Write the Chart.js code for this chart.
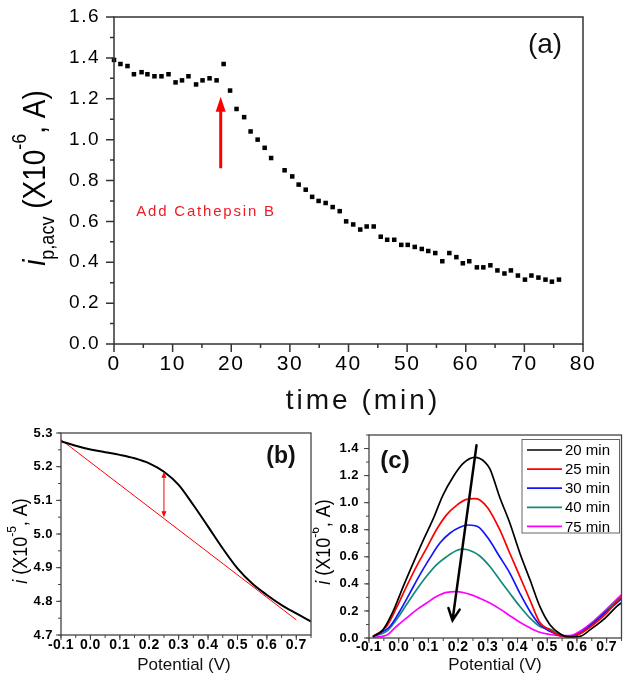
<!DOCTYPE html>
<html>
<head>
<meta charset="utf-8">
<script src="https://cdn.jsdelivr.net/npm/chart.js@4.4.1/dist/chart.umd.min.js"></script>
<style>
  html, body { margin: 0; padding: 0; background: #fff; }
  #wrap { position: relative; width: 629px; height: 692px; overflow: hidden; background: #fff; }
  canvas { position: absolute; }
</style>
</head>
<body>
<div id="wrap">
  <canvas id="chartA" width="629" height="425" style="left:0px;top:0px"></canvas>
  <canvas id="chartB" width="312" height="264" style="left:0px;top:428px"></canvas>
  <canvas id="chartC" width="317" height="264" style="left:312px;top:428px"></canvas>
</div>
<script>
// ---- panel (a): peak current vs time ----
const timeMin = [0, 1.1, 2.3, 3.4, 4.7, 5.7, 6.9, 8.1, 9.3, 10.5, 11.6, 12.7, 14.0, 15.1, 16.3,
  17.5, 18.7, 19.8, 20.9, 22.2, 23.3, 24.5, 25.7, 26.8, 29.1, 30.4, 31.5, 32.7, 33.8, 34.9,
  36.1, 37.3, 38.5, 39.6, 40.8, 42.0, 43.1, 44.3, 45.5, 46.6, 47.8, 49.0, 50.1, 51.3, 52.5,
  53.6, 54.8, 56.0, 57.2, 58.4, 59.5, 60.6, 61.9, 63.0, 64.2, 65.4, 66.6, 67.7, 68.9, 70.1,
  71.2, 72.4, 73.6, 74.7, 75.9];
const ipAcv = [1.39, 1.37, 1.36, 1.32, 1.33, 1.32, 1.31, 1.31, 1.32, 1.28, 1.29, 1.31, 1.27, 1.29, 1.30,
  1.29, 1.37, 1.24, 1.15, 1.11, 1.04, 1.00, 0.96, 0.91, 0.85, 0.82, 0.78, 0.755, 0.72, 0.70,
  0.69, 0.67, 0.65, 0.60, 0.585, 0.56, 0.575, 0.575, 0.525, 0.51, 0.51, 0.485, 0.485, 0.475, 0.465,
  0.455, 0.445, 0.405, 0.445, 0.425, 0.395, 0.405, 0.375, 0.375, 0.385, 0.36, 0.345, 0.36, 0.335, 0.315,
  0.335, 0.325, 0.315, 0.305, 0.315];
const aTickX = [0, 10, 20, 30, 40, 50, 60, 70, 80];
const aTickXLabels = ['0', '10', '20', '30', '40', '50', '60', '70', '80'];
const aTickY = [0, 0.2, 0.4, 0.6, 0.8, 1.0, 1.2, 1.4, 1.6];
const aTickYLabels = ['0.0', '0.2', '0.4', '0.6', '0.8', '1.0', '1.2', '1.4', '1.6'];
const addArrow = [18.2, 0.86, 1.21];      // time, tail, tip
const addLabel = [15.7, 0.645];

// ---- panel (b): raw ACV trace with baseline ----
const potB = [-0.1, -0.05, 0, 0.05, 0.1, 0.15, 0.2, 0.25, 0.3, 0.35, 0.4, 0.45, 0.5, 0.55, 0.6, 0.65, 0.7, 0.75];
const currB = [5.276, 5.262, 5.251, 5.243, 5.235, 5.225, 5.21, 5.185, 5.146, 5.086, 5.022, 4.957, 4.898, 4.853, 4.819, 4.789, 4.764, 4.74];
const baseX = [-0.1, 0.7];
const baseY = [5.28, 4.745];
const peakArrow = [0.25, 5.185, 5.05];
const potTicks = [-0.1, 0, 0.1, 0.2, 0.3, 0.4, 0.5, 0.6, 0.7];
const potTickLabels = ['-0.1', '0.0', '0.1', '0.2', '0.3', '0.4', '0.5', '0.6', '0.7'];
const bTickY = [4.7, 4.8, 4.9, 5.0, 5.1, 5.2, 5.3];
const bTickYLabels = ['4.7', '4.8', '4.9', '5.0', '5.1', '5.2', '5.3'];

// ---- panel (c): baseline-corrected peaks ----
const cLabels = ['20 min', '25 min', '30 min', '40 min', '75 min'];
const cColors = ['#000000', '#ff0000', '#1414ff', '#138a7a', '#ff00ff'];
const x20 = [-0.087, -0.053, -0.019, 0.015, 0.048, 0.082, 0.116, 0.149, 0.183, 0.217, 0.256, 0.273, 0.29, 0.307, 0.34, 0.374, 0.408, 0.442, 0.475, 0.509, 0.543, 0.576, 0.61, 0.644, 0.689, 0.74, 0.75];
const y20 = [0.01, 0.06, 0.196, 0.38, 0.55, 0.72, 0.88, 1.056, 1.19, 1.29, 1.334, 1.326, 1.30, 1.25, 1.04, 0.85, 0.626, 0.43, 0.233, 0.098, 0.032, 0.007, 0.012, 0.06, 0.135, 0.245, 0.26];
const x25 = [-0.087, -0.041, -0.008, 0.026, 0.06, 0.093, 0.127, 0.161, 0.195, 0.228, 0.256, 0.273, 0.30, 0.34, 0.374, 0.408, 0.442, 0.475, 0.509, 0.543, 0.576, 0.61, 0.655, 0.70, 0.745, 0.75];
const y25 = [0.01, 0.085, 0.22, 0.38, 0.53, 0.66, 0.80, 0.91, 0.98, 1.024, 1.03, 1.02, 0.96, 0.80, 0.626, 0.454, 0.28, 0.115, 0.06, 0.017, 0.012, 0.032, 0.098, 0.184, 0.295, 0.30];
const x30 = [-0.087, -0.03, 0.003, 0.037, 0.071, 0.105, 0.138, 0.172, 0.206, 0.234, 0.267, 0.30, 0.34, 0.374, 0.408, 0.442, 0.475, 0.509, 0.543, 0.576, 0.61, 0.655, 0.70, 0.745, 0.75];
const y30 = [0.01, 0.085, 0.196, 0.33, 0.466, 0.59, 0.70, 0.774, 0.818, 0.835, 0.822, 0.74, 0.60, 0.48, 0.33, 0.196, 0.098, 0.049, 0.017, 0.007, 0.037, 0.11, 0.196, 0.28, 0.29];
const x40 = [-0.087, -0.041, -0.008, 0.026, 0.06, 0.093, 0.127, 0.161, 0.195, 0.217, 0.25, 0.273, 0.307, 0.34, 0.374, 0.408, 0.442, 0.475, 0.509, 0.543, 0.576, 0.61, 0.655, 0.70, 0.745, 0.75];
const y40 = [0.01, 0.049, 0.135, 0.245, 0.356, 0.454, 0.54, 0.60, 0.646, 0.656, 0.638, 0.606, 0.528, 0.43, 0.33, 0.233, 0.147, 0.085, 0.066, 0.024, 0.012, 0.032, 0.11, 0.208, 0.295, 0.30];
const x75 = [-0.087, -0.041, -0.008, 0.026, 0.06, 0.093, 0.127, 0.161, 0.195, 0.217, 0.25, 0.273, 0.307, 0.34, 0.374, 0.408, 0.442, 0.475, 0.509, 0.543, 0.576, 0.61, 0.655, 0.70, 0.745, 0.75];
const y75 = [0.005, 0.02, 0.085, 0.147, 0.208, 0.257, 0.306, 0.337, 0.342, 0.336, 0.315, 0.293, 0.258, 0.215, 0.165, 0.117, 0.075, 0.042, 0.026, 0.018, 0.017, 0.05, 0.123, 0.213, 0.31, 0.32];
const cX = [x20, x25, x30, x40, x75];
const cY = [y20, y25, y30, y40, y75];
const cTickY = [0, 0.2, 0.4, 0.6, 0.8, 1.0, 1.2, 1.4];
const cTickYLabels = ['0.0', '0.2', '0.4', '0.6', '0.8', '1.0', '1.2', '1.4'];
const trendArrow = [0.262, 1.425, 0.181, 0.13];   // x0, y0, x1, y1

const FF = "'Liberation Sans', Arial, Helvetica, sans-serif";

function pts(xs, ys) {
    return xs.map((x, i) => ({ x: x, y: ys[i] }));
}

function axis(min, max, ticks, labels, font, padding, size, horizontal) {
    return {
        type: 'linear', min: min, max: max,
        grid: { display: false, drawTicks: false },
        border: { display: false },
        afterBuildTicks: s => { s.ticks = ticks.map(v => ({ value: v })); },
        afterFit: s => {
            if (horizontal) s.height = size; else s.width = size;
            // keep the plot box exactly where the layout padding puts it
            s.paddingTop = 0; s.paddingBottom = 0; s.paddingLeft = 0; s.paddingRight = 0;
        },
        ticks: { font: font, color: '#000', padding: padding, autoSkip: false, maxRotation: 0, callback: (v, i) => labels[i] }
    };
}

// text made of pieces (italic i, sub/superscripts)
function drawParts(ctx, parts, cx, cy, angle, baseOff, sx, sy) {
    ctx.save();
    ctx.translate(cx, cy);
    ctx.rotate(angle);
    ctx.scale(sx, sy);
    ctx.textAlign = 'left';
    ctx.textBaseline = 'alphabetic';
    let total = 0;
    parts.forEach(p => { ctx.font = p.font; total += ctx.measureText(p.text).width; });
    let x = -total / 2;
    parts.forEach(p => {
        ctx.font = p.font;
        ctx.fillStyle = p.color || '#000';
        ctx.fillText(p.text, x, baseOff + (p.dy || 0));
        x += ctx.measureText(p.text).width;
    });
    ctx.restore();
}

// box frame, major + minor tick marks, then panel-specific extras
function framePlugin(cfg) {
    return {
        id: 'frame',
        beforeDraw(chart) { chart.ctx.letterSpacing = cfg.spacing; },
        afterDraw(chart) {
            const ctx = chart.ctx, a = chart.chartArea;
            const xs = chart.scales.x, ys = chart.scales.y;
            ctx.save();
            ctx.letterSpacing = '0px';
            ctx.strokeStyle = cfg.color;
            ctx.lineWidth = cfg.tickWidth;
            ctx.beginPath();
            for (let v = xs.min; v <= xs.max + 1e-9; v += cfg.minorX) {
                const p = xs.getPixelForValue(v);
                ctx.moveTo(p, a.bottom); ctx.lineTo(p, a.bottom + cfg.minorLen);
            }
            for (let v = ys.min; v <= ys.max + 1e-9; v += cfg.minorY) {
                const p = ys.getPixelForValue(v);
                ctx.moveTo(a.left, p); ctx.lineTo(a.left - cfg.minorLen, p);
            }
            xs.ticks.forEach(t => {
                const p = xs.getPixelForValue(t.value);
                ctx.moveTo(p, a.bottom); ctx.lineTo(p, a.bottom + cfg.majorLen);
            });
            ys.ticks.forEach(t => {
                const p = ys.getPixelForValue(t.value);
                ctx.moveTo(a.left, p); ctx.lineTo(a.left - cfg.majorLen, p);
            });
            ctx.stroke();
            ctx.lineWidth = cfg.frameWidth;
            ctx.strokeRect(a.left, a.top, a.right - a.left, a.bottom - a.top);
            ctx.restore();
            ctx.save();
            ctx.letterSpacing = '0px';
            cfg.extras(ctx, xs, ys, a);
            ctx.restore();
        }
    };
}

const baseOpts = {
    responsive: false, maintainAspectRatio: false, devicePixelRatio: 1, animation: false,
    events: [],
    plugins: { legend: { display: false }, tooltip: { enabled: false } }
};

// ---------- chart (a) ----------
new Chart(document.getElementById('chartA'), {
    type: 'scatter',
    data: {
        datasets: [{
            data: pts(timeMin, ipAcv),
            pointStyle: 'rect', pointRadius: 3.2, pointBorderWidth: 0,
            pointBackgroundColor: '#000', backgroundColor: '#000', clip: false
        }]
    },
    options: Object.assign({}, baseOpts, {
        layout: { autoPadding: false, padding: { left: 0, top: 17, right: 46, bottom: 0 } },
        scales: {
            x: axis(0, 80, aTickX, aTickXLabels, { family: FF, size: 21 }, 8, 81, true),
            y: axis(0, 1.6, aTickY, aTickYLabels, { family: FF, size: 19 }, 14, 114, false)
        }
    }),
    plugins: [framePlugin({
        spacing: '1.5px', color: '#333', tickWidth: 1.5, frameWidth: 1.5,
        minorX: 5, minorY: 0.1, majorLen: 8, minorLen: 4,
        extras(ctx, xs, ys, a) {
            // red "add enzyme" arrow
            const ax = xs.getPixelForValue(addArrow[0]);
            const tail = ys.getPixelForValue(addArrow[1]);
            const tip = ys.getPixelForValue(addArrow[2]);
            ctx.strokeStyle = '#ff0000';
            ctx.fillStyle = '#ff0000';
            ctx.lineWidth = 3;
            ctx.beginPath();
            ctx.moveTo(ax, tail); ctx.lineTo(ax, tip + 12);
            ctx.stroke();
            ctx.beginPath();
            ctx.moveTo(ax, tip); ctx.lineTo(ax - 5, tip + 15); ctx.lineTo(ax + 5, tip + 15);
            ctx.closePath(); ctx.fill();
            ctx.font = '15px ' + FF;
            ctx.letterSpacing = '1.8px';
            ctx.textAlign = 'center';
            ctx.textBaseline = 'middle';
            ctx.fillStyle = '#ee1c24';
            ctx.fillText('Add Cathepsin B', xs.getPixelForValue(addLabel[0]), ys.getPixelForValue(addLabel[1]));
            // panel letter
            ctx.letterSpacing = '0px';
            ctx.fillStyle = '#111';
            ctx.font = '28px ' + FF;
            ctx.fillText('(a)', a.right - 38, a.top + 28);
            // x title
            ctx.font = '28px ' + FF;
            ctx.letterSpacing = '3px';
            ctx.fillText('time (min)', 363, 401);
            ctx.letterSpacing = '0px';
            // y title
            drawParts(ctx, [
                { text: 'i', font: 'italic 28px ' + FF },
                { text: 'p,acv', font: '18px ' + FF, dy: 8 },
                { text: ' (X10', font: '28px ' + FF },
                { text: '-6', font: '18px ' + FF, dy: -17 },
                { text: ', A)', font: '28px ' + FF }
            ], 34, 178, -Math.PI / 2, 10, 1, 1.12);
        }
    })]
});

// ---------- chart (b) ----------
new Chart(document.getElementById('chartB'), {
    type: 'scatter',
    data: {
        datasets: [
            { data: pts(potB, currB), showLine: true, borderColor: '#000', borderWidth: 2, pointRadius: 0, cubicInterpolationMode: 'monotone' },
            { data: pts(baseX, baseY), showLine: true, borderColor: '#ff0000', borderWidth: 1, pointRadius: 0 }
        ]
    },
    options: Object.assign({}, baseOpts, {
        layout: { autoPadding: false, padding: { left: 0, top: 5, right: 1, bottom: 0 } },
        scales: {
            x: axis(-0.1, 0.75, potTicks, potTickLabels, { family: FF, size: 14, weight: 'bold' }, 2, 57, true),
            y: axis(4.7, 5.3, bTickY, bTickYLabels, { family: FF, size: 13, weight: 'bold' }, 8, 61, false)
        }
    }),
    plugins: [framePlugin({
        spacing: '0.5px', color: '#444', tickWidth: 1, frameWidth: 1.3,
        minorX: 0.05, minorY: 0.05, majorLen: 5, minorLen: 3,
        extras(ctx, xs, ys, a) {
            const px = xs.getPixelForValue(peakArrow[0]);
            const top = ys.getPixelForValue(peakArrow[1]);
            const bot = ys.getPixelForValue(peakArrow[2]);
            ctx.strokeStyle = '#ff0000';
            ctx.fillStyle = '#ff0000';
            ctx.lineWidth = 1;
            ctx.beginPath(); ctx.moveTo(px, top + 4); ctx.lineTo(px, bot - 4); ctx.stroke();
            ctx.beginPath(); ctx.moveTo(px, top); ctx.lineTo(px - 2.5, top + 6); ctx.lineTo(px + 2.5, top + 6); ctx.closePath(); ctx.fill();
            ctx.beginPath(); ctx.moveTo(px, bot); ctx.lineTo(px - 2.5, bot - 6); ctx.lineTo(px + 2.5, bot - 6); ctx.closePath(); ctx.fill();
            ctx.fillStyle = '#111';
            ctx.textAlign = 'center';
            ctx.textBaseline = 'middle';
            ctx.font = 'bold 23px ' + FF;
            ctx.fillText('(b)', 281, 29);
            ctx.font = '17px ' + FF;
            ctx.fillText('Potential (V)', 184, 237);
            drawParts(ctx, [
                { text: 'i', font: 'italic 18px ' + FF },
                { text: ' (X10', font: '18px ' + FF },
                { text: '-5', font: '12px ' + FF, dy: -10 },
                { text: ', A)', font: '18px ' + FF }
            ], 20, 113, -Math.PI / 2, 6.5, 1, 1.1);
        }
    })]
});

// ---------- chart (c) ----------
new Chart(document.getElementById('chartC'), {
    type: 'scatter',
    data: {
        datasets: cLabels.map((lab, i) => ({
            label: lab, data: pts(cX[i], cY[i]), showLine: true, borderColor: cColors[i],
            borderWidth: 1.7, pointRadius: 0, cubicInterpolationMode: 'monotone'
        }))
    },
    options: Object.assign({}, baseOpts, {
        layout: { autoPadding: false, padding: { left: 0, top: 7, right: 7.5, bottom: 0 } },
        scales: {
            x: axis(-0.1, 0.75, potTicks, potTickLabels, { family: FF, size: 14, weight: 'bold' }, 1, 54, true),
            y: axis(0, 1.5, cTickY, cTickYLabels, { family: FF, size: 13, weight: 'bold' }, 10, 57, false)
        }
    }),
    plugins: [framePlugin({
        spacing: '0.5px', color: '#444', tickWidth: 1, frameWidth: 1.3,
        minorX: 0.05, minorY: 0.1, majorLen: 5, minorLen: 3,
        extras(ctx, xs, ys, a) {
            // trend arrow
            const x0 = xs.getPixelForValue(trendArrow[0]), y0 = ys.getPixelForValue(trendArrow[1]);
            const x1 = xs.getPixelForValue(trendArrow[2]), y1 = ys.getPixelForValue(trendArrow[3]);
            const ang = Math.atan2(y1 - y0, x1 - x0);
            ctx.strokeStyle = '#000';
            ctx.lineWidth = 2.5;
            ctx.lineCap = 'round';
            ctx.beginPath();
            ctx.moveTo(x0, y0); ctx.lineTo(x1, y1);
            ctx.moveTo(x1 - 13 * Math.cos(ang - 0.45), y1 - 13 * Math.sin(ang - 0.45));
            ctx.lineTo(x1, y1);
            ctx.lineTo(x1 - 13 * Math.cos(ang + 0.45), y1 - 13 * Math.sin(ang + 0.45));
            ctx.stroke();
            ctx.lineCap = 'butt';
            // legend box
            ctx.fillStyle = '#fff';
            ctx.fillRect(210, 11.5, 97.5, 93.5);
            ctx.strokeStyle = '#666';
            ctx.lineWidth = 1;
            ctx.strokeRect(210, 11.5, 97.5, 93.5);
            ctx.font = '15px ' + FF;
            ctx.textAlign = 'left';
            ctx.textBaseline = 'middle';
            cLabels.forEach((lab, i) => {
                const ry = 22 + i * 19.1;
                ctx.strokeStyle = cColors[i];
                ctx.lineWidth = 1.7;
                ctx.beginPath(); ctx.moveTo(215, ry); ctx.lineTo(250, ry); ctx.stroke();
                ctx.fillStyle = '#000';
                ctx.fillText(lab, 253, ry + 1);
            });
            ctx.fillStyle = '#111';
            ctx.textAlign = 'center';
            ctx.font = 'bold 24px ' + FF;
            ctx.fillText('(c)', 83, 33);
            ctx.font = '17px ' + FF;
            ctx.fillText('Potential (V)', 183, 237);
            drawParts(ctx, [
                { text: 'i', font: 'italic 18px ' + FF },
                { text: ' (X10', font: '18px ' + FF },
                { text: '-6', font: '12px ' + FF, dy: -10 },
                { text: ', A)', font: '18px ' + FF }
            ], 11, 114, -Math.PI / 2, 6.5, 1, 1.1);
        }
    })]
});
</script>
</body>
</html>
